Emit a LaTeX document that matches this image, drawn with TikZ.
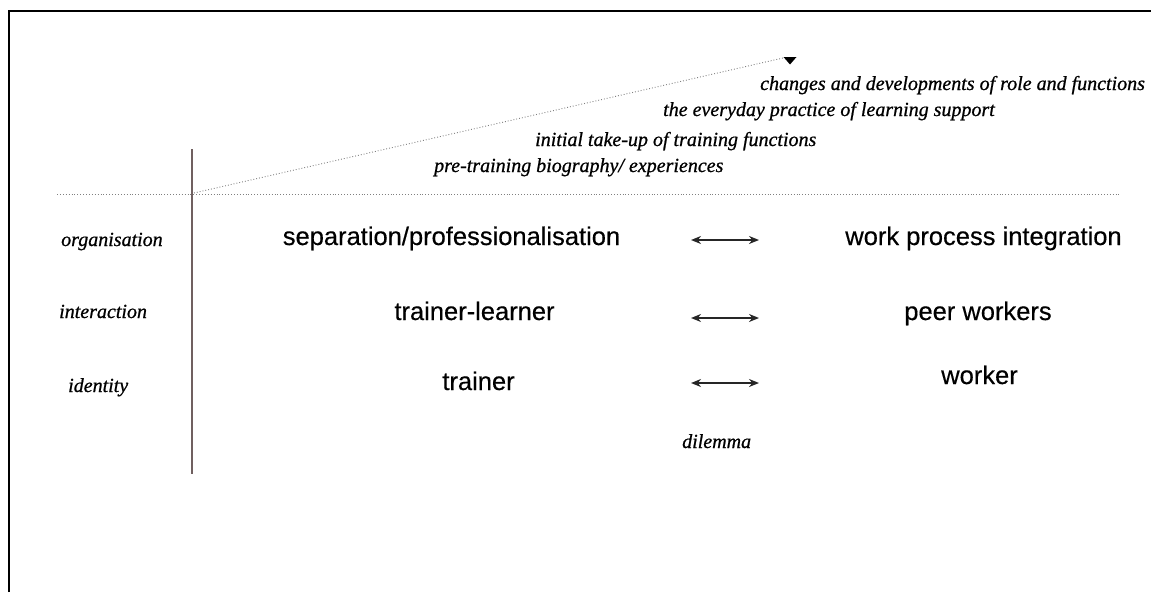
\documentclass[tikz,border=0pt]{standalone}
\usepackage{fontspec}
\setmainfont{Liberation Serif}
\setsansfont{Liberation Sans}
\newfontfamily\labfont[FakeBold=0.8]{Liberation Serif}
\newfontfamily\itemfont[FakeBold=0.4]{Liberation Sans}
\usetikzlibrary{arrows.meta}
\tikzset{
  lab/.style={font=\fontsize{20}{22}\labfont\itshape, inner sep=0pt, anchor=base west},
  item/.style={font=\fontsize{25.5}{28}\itemfont, inner sep=0pt, anchor=base},
  dilarrow/.style={{Stealth[length=10pt,width=8pt]}-{Stealth[length=10pt,width=8pt]}, line width=1.7pt, black!85},
  dotline/.style={dotted, gray, line width=0.9pt}
}
\begin{document}
\begin{tikzpicture}[x=1pt,y=-1pt]
\useasboundingbox (0,0) rectangle (1151,592);
% frame (top and left edges)
\draw[line width=2.5pt] (9,592) -- (9,11) -- (1151,11);
% axes
\coordinate (vtop) at (192,149);
\coordinate (vbot) at (192,474);
\draw[line width=2.2pt, black!75!red!25!gray] (vtop) -- (vbot);
\coordinate (hl) at (57,194);
\coordinate (hr) at (1120,194);
\draw[dotline] (hl) -- (hr);
\coordinate (o) at (194,193);
\coordinate (tip) at (783,58);
\draw[dotline] (o) -- (tip);
\fill[black] (783.5,57) -- (796.5,57) -- (790,64.5) -- cycle;
% stage labels
\node[lab] (s4) at (760,90) {changes and developments of role and functions};
\node[lab] (s3) at (663,116) {the everyday practice of learning support};
\node[lab] (s2) at (535,146) {initial take-up of training functions};
\node[lab] (s1) at (434,172) {pre-training biography/ experiences};
% dimension labels
\node[lab] (d1) at (61,246) {organisation};
\node[lab] (d2) at (59,318) {interaction};
\node[lab] (d3) at (68,392) {identity};
\node[lab] (dil) at (682,448) {dilemma};
% left column
\node[item] (l1) at (451.5,245) {separation/professionalisation};
\node[item] (l2) at (474.5,320) {trainer-learner};
\node[item] (l3) at (478.5,390) {trainer};
% right column
\node[item] (r1) at (983.5,245) {work process integration};
\node[item] (r2) at (978,320) {peer workers};
\node[item] (r3) at (979.5,384) {worker};
% arrows
\coordinate (a1l) at (691,240); \coordinate (a1r) at (759,240);
\coordinate (a2l) at (691,318); \coordinate (a2r) at (759,318);
\coordinate (a3l) at (691,383); \coordinate (a3r) at (759,383);
\draw[dilarrow] (a1l) -- (a1r);
\draw[dilarrow] (a2l) -- (a2r);
\draw[dilarrow] (a3l) -- (a3r);
\end{tikzpicture}
\end{document}
